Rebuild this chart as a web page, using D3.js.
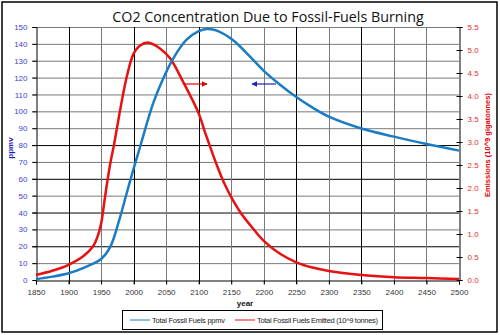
<!DOCTYPE html>
<html>
<head>
<meta charset="utf-8">
<script src="https://cdn.jsdelivr.net/npm/d3@7"></script>
<style>
  body { margin: 0; background: #fff; }
  text { font-family: Arial, "Liberation Sans", sans-serif; }
</style>
</head>
<body>
<div id="chart"></div>
<script>
// CO2 ppmv (left axis)
var ppmvYears = [1850, 1875, 1900, 1925, 1950, 1964, 1979, 1989, 2000, 2010, 2030, 2048, 2061, 2081, 2100, 2112, 2125, 2138, 2150, 2164, 2179, 2200, 2225, 2250, 2275, 2300, 2350, 2400, 2450, 2500];
var ppmvValues = [0.5, 2, 4, 7.5, 12.5, 19.5, 37, 51, 66, 79, 104.7, 121.5, 131.4, 142.3, 147.5, 148.8, 148.2, 146, 143, 138.3, 132.4, 124, 115.8, 108.5, 102.2, 96.8, 89.8, 85, 80.6, 76.7];

// emissions in 10^9 tonnes (right axis)
var emitYears = [1850, 1875, 1900, 1923, 1938, 1944, 1950, 1955, 1960, 1965, 1970, 1975, 1980, 1990, 2000, 2010, 2023, 2040, 2056, 2076, 2100, 2110, 2120, 2130, 2140, 2150, 2165, 2180, 2200, 2225, 2250, 2275, 2300, 2350, 2400, 2450, 2500];
var emitValues = [0.11, 0.2, 0.33, 0.52, 0.74, 0.92, 1.22, 1.7, 2.18, 2.6, 2.95, 3.35, 3.75, 4.45, 4.92, 5.1, 5.16, 5.04, 4.82, 4.31, 3.62, 3.2, 2.8, 2.42, 2.08, 1.8, 1.45, 1.18, 0.85, 0.57, 0.385, 0.27, 0.196, 0.11, 0.06, 0.043, 0.02];

var xTicks = d3.range(1850, 2501, 50);
var leftTicks = d3.range(0, 151, 10);
var rightTicks = d3.range(0, 5.51, 0.5);
var darkX = [1900, 2000, 2100, 2250, 2350];
var darkY = [20, 40, 60, 80];

var width = 500, height = 335;

var svg = d3.select("#chart").append("svg")
  .attr("width", width)
  .attr("height", height);

var x = d3.scaleLinear().domain([1850, 2500]).range([36, 459]);
var yL = d3.scaleLinear().domain([0, 150]).range([280, 27]);
var yR = d3.scaleLinear().domain([0, 5.5]).range([280, 27]);

// outer frame
svg.append("rect")
  .attr("x", 2).attr("y", 2)
  .attr("width", 495).attr("height", 330)
  .attr("fill", "none")
  .attr("stroke", "#000")
  .attr("stroke-width", 1.5);

svg.append("text")
  .attr("x", 268)
  .attr("y", 22)
  .attr("text-anchor", "middle")
  .style("font-family", "'Open Sans', sans-serif")
  .style("font-size", "14.3px")
  .attr("fill", "#111")
  .text("CO2 Concentration Due to Fossil-Fuels Burning");

// grid
var grid = svg.append("g");
grid.selectAll("line.h")
  .data(leftTicks.slice(1))
  .join("line")
  .attr("x1", 32).attr("x2", x(2500))
  .attr("y1", d => yL(d) + 0.5).attr("y2", d => yL(d) + 0.5)
  .attr("stroke", d => darkY.indexOf(d) >= 0 ? "#000" : "#7a7a7a")
  .attr("stroke-width", 1);

grid.selectAll("line.v")
  .data(xTicks.slice(1, -1))
  .join("line")
  .attr("x1", d => Math.round(x(d)) + 0.5).attr("x2", d => Math.round(x(d)) + 0.5)
  .attr("y1", yL(150)).attr("y2", 284)
  .attr("stroke", d => darkX.indexOf(d) >= 0 ? "#000" : "#7a7a7a")
  .attr("stroke-width", 1);

// axes
var xAxis = svg.append("g")
  .attr("transform", "translate(0,280.5)")
  .call(d3.axisBottom(x).tickValues(xTicks).tickFormat(d3.format("d")).tickSize(4).tickPadding(5));
xAxis.select(".domain").attr("stroke", "#000");
xAxis.selectAll("text").attr("fill", "#333").style("font-size", "8px");

var leftAxis = svg.append("g")
  .attr("transform", "translate(36.5,0)")
  .call(d3.axisLeft(yL).tickValues(leftTicks).tickSize(4).tickPadding(5));
leftAxis.select(".domain").attr("stroke", "#000");
leftAxis.selectAll("text").attr("fill", "#4040d4").style("font-size", "8px");

var rightAxis = svg.append("g")
  .attr("transform", "translate(459.5,0)")
  .call(d3.axisRight(yR).tickValues(rightTicks).tickFormat(d3.format(".1f")).tickSize(3).tickPadding(5));
rightAxis.select(".domain").attr("stroke", "#000");
rightAxis.selectAll(".tick line").attr("x1", -3);
rightAxis.selectAll("text").attr("fill", "#e03030").style("font-size", "8px");

// axis titles
svg.append("text")
  .attr("x", 245).attr("y", 306)
  .attr("text-anchor", "middle")
  .style("font-size", "8px").style("font-weight", "bold")
  .attr("fill", "#111")
  .text("year");

svg.append("text")
  .attr("transform", "translate(13,148) rotate(-90)")
  .attr("text-anchor", "middle")
  .style("font-size", "8px").style("font-weight", "bold")
  .attr("fill", "#2020c0")
  .text("ppmv");

svg.append("text")
  .attr("transform", "translate(490,145) rotate(-90)")
  .attr("text-anchor", "middle")
  .style("font-size", "7.5px").style("font-weight", "bold")
  .attr("fill", "#e00000")
  .attr("textLength", 104)
  .text("Emissions (10^9 gigatonnes)");

// series
var ppmv = ppmvYears.map((d, i) => ({ year: d, value: ppmvValues[i] }));
var emit = emitYears.map((d, i) => ({ year: d, value: emitValues[i] }));

svg.append("path")
  .datum(emit)
  .attr("fill", "none")
  .attr("stroke", "#e81010")
  .attr("stroke-width", 2.5)
  .attr("d", d3.line().x(d => x(d.year)).y(d => yR(d.value)).curve(d3.curveCatmullRom.alpha(0.5)));

svg.append("path")
  .datum(ppmv)
  .attr("fill", "none")
  .attr("stroke", "#1a7cc4")
  .attr("stroke-width", 2.5)
  .attr("d", d3.line().x(d => x(d.year)).y(d => yL(d.value)).curve(d3.curveCatmullRom.alpha(0.5)));

// arrows pointing to each curve's axis
svg.append("defs").selectAll("marker")
  .data([{ id: "redHead", c: "#e00000" }, { id: "blueHead", c: "#2020c0" }])
  .join("marker")
  .attr("id", d => d.id)
  .attr("viewBox", "0 -5 10 10")
  .attr("refX", 9)
  .attr("markerWidth", 6)
  .attr("markerHeight", 6)
  .attr("markerUnits", "userSpaceOnUse")
  .attr("orient", "auto")
  .append("path")
  .attr("d", "M0,-5L10,0L0,5Z")
  .attr("fill", d => d.c);

svg.append("line")
  .attr("x1", 183).attr("x2", 207).attr("y1", 84).attr("y2", 84)
  .attr("stroke", "#e00000").attr("stroke-width", 1.2)
  .attr("marker-end", "url(#redHead)");

svg.append("line")
  .attr("x1", 276).attr("x2", 252).attr("y1", 84).attr("y2", 84)
  .attr("stroke", "#2020c0").attr("stroke-width", 1.2)
  .attr("marker-end", "url(#blueHead)");

// legend
var legend = svg.append("g");
legend.append("rect")
  .attr("x", 122.5).attr("y", 310.5)
  .attr("width", 260).attr("height", 19)
  .attr("fill", "#fff").attr("stroke", "#000");

var legendItems = [
  { label: "Total Fossil Fuels ppmv", color: "#1a7cc4", x: 130, w: 73 },
  { label: "Total Fossil Fuels Emitted (10^9 tonnes)", color: "#e81010", x: 235, w: 121 }
];
var li = legend.selectAll("g.item")
  .data(legendItems)
  .join("g");
li.append("line")
  .attr("x1", d => d.x).attr("x2", d => d.x + 20)
  .attr("y1", 320).attr("y2", 320)
  .attr("stroke", d => d.color).attr("stroke-width", 1);
li.append("text")
  .attr("x", d => d.x + 22).attr("y", 322.5)
  .style("font-size", "7.5px")
  .attr("fill", "#222")
  .attr("textLength", d => d.w)
  .text(d => d.label);
</script>
</body>
</html>
